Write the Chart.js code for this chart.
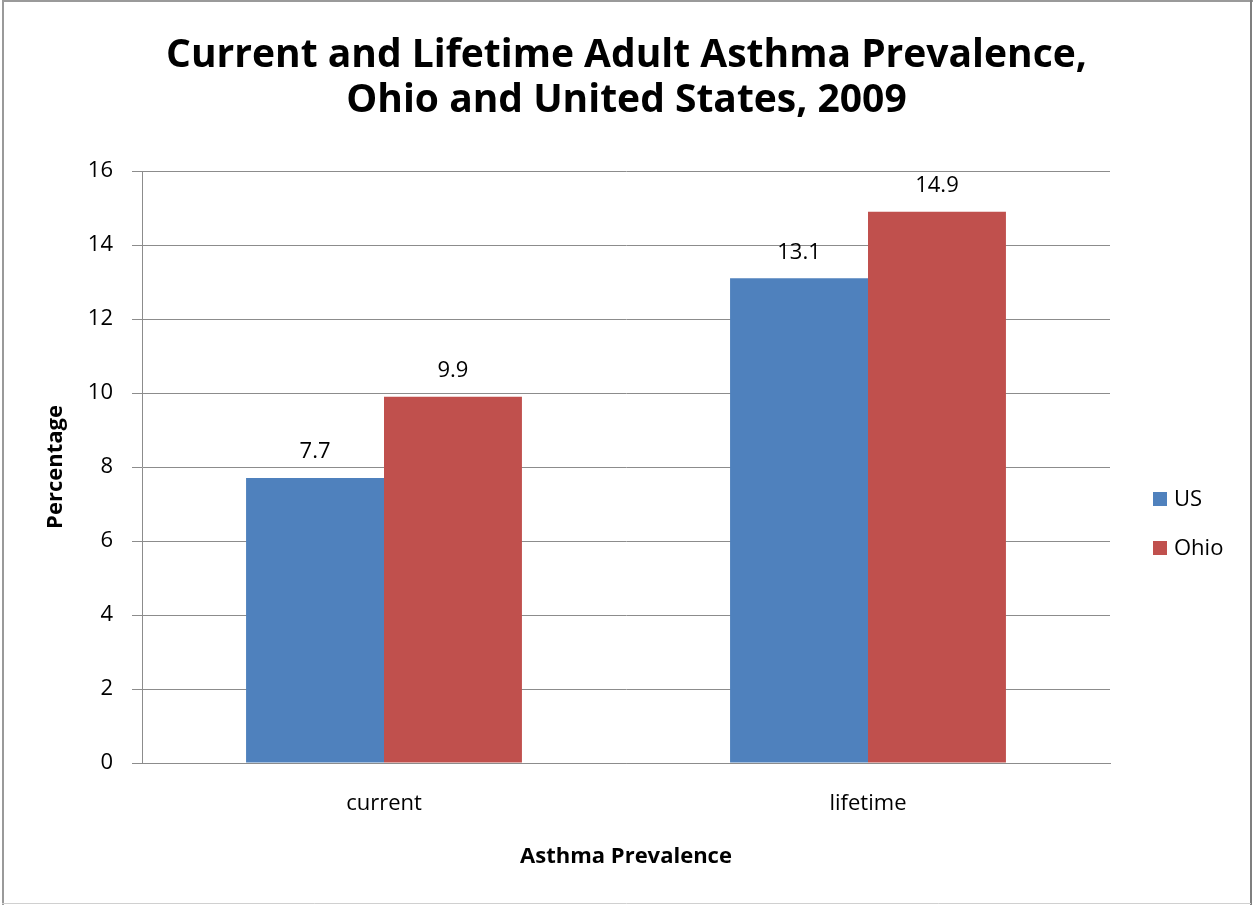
<!DOCTYPE html>
<html>
<head>
<meta charset="utf-8">
<title>Current and Lifetime Adult Asthma Prevalence, Ohio and United States, 2009</title>
<script src="https://cdn.jsdelivr.net/npm/chart.js@4/dist/chart.umd.min.js"></script>
<style>
  html, body { margin: 0; padding: 0; background: #fff; }
  #wrap { width: 1253px; height: 905px; }
</style>
</head>
<body>
<div id="wrap"><canvas id="chart" width="1253" height="905"></canvas></div>
<script>
// Asthma prevalence (%) by measure
const categories = ['current', 'lifetime'];
const usValues = [7.7, 13.1];
const ohioValues = [9.9, 14.9];
const seriesNames = ['US', 'Ohio'];
const yTicks = [0, 2, 4, 6, 8, 10, 12, 14, 16];

const FONT = '"Open Sans", Lato, "DejaVu Sans", sans-serif';
const GRID = '#8c8c8c';

// White background and the thin frame round the whole figure
const framePlugin = {
  id: 'frame',
  beforeDraw(chart) {
    const ctx = chart.ctx;
    ctx.save();
    ctx.fillStyle = '#ffffff';
    ctx.fillRect(0, 0, chart.width, chart.height);
    ctx.strokeStyle = '#9a9a9a';
    ctx.lineWidth = 2;
    ctx.beginPath();
    ctx.moveTo(3, 0.5); ctx.lineTo(3, chart.height);
    ctx.moveTo(2, 1); ctx.lineTo(chart.width, 1);
    ctx.stroke();
    ctx.strokeStyle = '#7f7f7f';
    ctx.beginPath();
    ctx.moveTo(chart.width - 2, 0); ctx.lineTo(chart.width - 2, chart.height);
    ctx.stroke();
    ctx.strokeStyle = '#d0d0d0';
    ctx.lineWidth = 1;
    ctx.beginPath();
    ctx.moveTo(2, chart.height - 1.5); ctx.lineTo(chart.width - 2, chart.height - 1.5);
    ctx.stroke();
    ctx.restore();
  }
};

// Value printed above each bar
const valueLabels = {
  id: 'valueLabels',
  afterDatasetsDraw(chart) {
    const ctx = chart.ctx;
    ctx.save();
    ctx.font = '22px ' + FONT;
    ctx.fillStyle = '#000';
    ctx.textAlign = 'center';
    ctx.textBaseline = 'middle';
    chart.data.datasets.forEach((ds, i) => {
      chart.getDatasetMeta(i).data.forEach((bar, j) => {
        ctx.fillText(String(ds.data[j]), bar.x, bar.y - 26);
      });
    });
    ctx.restore();
  }
};

// Legend at the right, square swatches
const sideLegend = {
  id: 'sideLegend',
  afterDraw(chart) {
    const ctx = chart.ctx;
    const rowsY = [499, 548];
    ctx.save();
    ctx.font = '22px ' + FONT;
    ctx.textAlign = 'left';
    ctx.textBaseline = 'middle';
    chart.data.datasets.forEach((ds, i) => {
      const y = rowsY[i];
      ctx.fillStyle = ds.backgroundColor;
      ctx.fillRect(1153, y - 7, 14, 14);
      ctx.fillStyle = '#000';
      ctx.fillText(ds.label, 1174, y + 1);
    });
    ctx.restore();
  }
};

new Chart(document.getElementById('chart'), {
  type: 'bar',
  data: {
    labels: categories,
    datasets: [
      { label: seriesNames[0], data: usValues, backgroundColor: '#4f81bd' },
      { label: seriesNames[1], data: ohioValues, backgroundColor: '#c0504d' }
    ]
  },
  options: {
    responsive: false,
    animation: false,
    devicePixelRatio: 1,
    layout: { padding: 0 },
    datasets: { bar: { categoryPercentage: 0.57, barPercentage: 1.0 } },
    plugins: {
      legend: { display: false },
      tooltip: { enabled: false },
      title: {
        display: true,
        text: ['Current and Lifetime Adult Asthma Prevalence,', 'Ohio and United States, 2009'],
        color: '#000',
        font: { family: FONT, size: 39, weight: 'bold', lineHeight: '45px' },
        padding: { top: 33, bottom: 48 }
      }
    },
    scales: {
      x: {
        grid: { display: false, drawTicks: false },
        border: { display: true, color: GRID, width: 1 },
        ticks: { color: '#000', font: { family: FONT, size: 22 }, padding: 28 },
        title: {
          display: true,
          text: 'Asthma Prevalence',
          color: '#000',
          font: { family: FONT, size: 22, weight: 'bold' },
          padding: { top: 0, bottom: 35 }
        },
        afterFit(scale) { scale.height = 142; }
      },
      y: {
        min: 0,
        max: 16,
        afterBuildTicks(scale) { scale.ticks = yTicks.map(v => ({ value: v })); },
        grid: { color: GRID, lineWidth: 1, drawTicks: true, tickLength: 10, tickColor: GRID },
        border: { display: true, color: GRID, width: 1 },
        ticks: { color: '#000', font: { family: FONT, size: 22 }, padding: 19 },
        title: {
          display: true,
          text: 'Percentage',
          color: '#000',
          font: { family: FONT, size: 22, weight: 'bold' },
          padding: { top: 43, bottom: 0 }
        },
        afterFit(scale) { scale.width = 142; }
      },
      // empty right-hand strip that holds the legend column
      legendSpace: {
        type: 'linear',
        position: 'right',
        display: true,
        grid: { display: false, drawTicks: false },
        border: { display: false },
        ticks: { display: false },
        afterFit(scale) { scale.width = 143; }
      }
    }
  },
  plugins: [framePlugin, valueLabels, sideLegend]
});
</script>
</body>
</html>
